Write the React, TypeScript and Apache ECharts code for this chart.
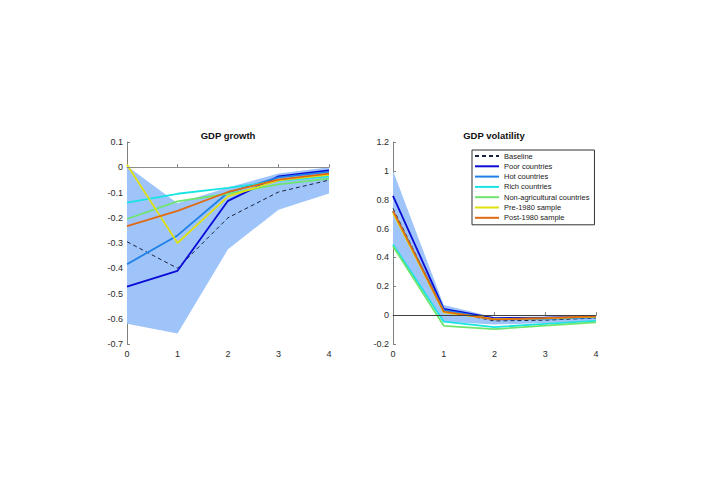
import React, { useEffect, useRef } from "react";
import * as echarts from "echarts";

const horizons = ["0", "1", "2", "3", "4"];
const seriesNames = [
  "Baseline",
  "Poor countries",
  "Hot countries",
  "Rich countries",
  "Non-agricultural countries",
  "Pre-1980 sample",
  "Post-1980 sample",
];
const seriesColors = ["#1c2340", "#0b0bd6", "#1e80e8", "#19e3e3", "#6ee56e", "#e0e010", "#e06a10"];

// GDP growth
const growthBandLow = [-0.62, -0.658, -0.325, -0.168, -0.104];
const growthBandHigh = [0.005, -0.143, -0.08, -0.025, 0.0];
const growthBaseline = [-0.295, -0.4, -0.2, -0.098, -0.051];
const growthPoor = [-0.473, -0.41, -0.133, -0.036, -0.012];
const growthHot = [-0.384, -0.27, -0.1, -0.04, -0.018];
const growthRich = [-0.14, -0.105, -0.082, -0.054, -0.036];
const growthNonAg = [-0.205, -0.135, -0.105, -0.068, -0.045];
const growthPre1980 = [0.01, -0.3, -0.115, -0.052, -0.03];
const growthPost1980 = [-0.233, -0.173, -0.098, -0.049, -0.025];

// GDP volatility
const volBandLow = [0.47, -0.045, -0.065, -0.055, -0.04];
const volBandHigh = [1.0, 0.07, -0.015, -0.01, -0.005];
const volBaseline = [0.74, 0.03, -0.04, -0.035, -0.02];
const volPoor = [0.827, 0.044, -0.02, -0.018, -0.012];
const volHot = [0.72, 0.035, -0.03, -0.025, -0.015];
const volRich = [0.49, -0.045, -0.083, -0.06, -0.04];
const volNonAg = [0.478, -0.074, -0.097, -0.072, -0.05];
const volPre1980 = [0.709, 0.02, -0.028, -0.022, -0.01];
const volPost1980 = [0.723, 0.025, -0.03, -0.02, -0.008];

const growthLines = [growthBaseline, growthPoor, growthHot, growthRich, growthNonAg, growthPre1980, growthPost1980];
const volLines = [volBaseline, volPoor, volHot, volRich, volNonAg, volPre1980, volPost1980];

const FONT = "'Liberation Sans', Arial, Helvetica, sans-serif";
const AXIS_COLOR = "#808080";
const LABEL_COLOR = "#2b2b2b";

function bandSeries(low: number[], high: number[], idx: number, zeroColor: string) {
  return [
    {
      type: "line",
      name: "bandLow" + idx,
      xAxisIndex: idx,
      yAxisIndex: idx,
      data: low,
      stack: "band" + idx,
      stackStrategy: "all",
      symbol: "none",
      lineStyle: { opacity: 0 },
      silent: true,
    },
    {
      type: "line",
      name: "bandSpan" + idx,
      xAxisIndex: idx,
      yAxisIndex: idx,
      data: high.map((h, i) => h - low[i]),
      stack: "band" + idx,
      stackStrategy: "all",
      symbol: "none",
      lineStyle: { opacity: 0 },
      areaStyle: { color: "#9ec4fa", opacity: 1 },
      silent: true,
      markLine: {
        silent: true,
        symbol: "none",
        label: { show: false },
        lineStyle: { color: zeroColor, width: 1, type: "solid" },
        data: [{ yAxis: 0 }],
      },
    },
  ];
}

function lineSeries(lines: number[][], idx: number) {
  return lines.map((d, i) => ({
    type: "line",
    name: seriesNames[i],
    xAxisIndex: idx,
    yAxisIndex: idx,
    data: d,
    symbol: "none",
    color: seriesColors[i],
    lineStyle: {
      color: seriesColors[i],
      width: i === 0 ? 1 : 1.8,
      type: i === 0 ? [4, 3] : "solid",
    },
  }));
}

function xAxis(idx: number) {
  return {
    type: "category",
    gridIndex: idx,
    data: horizons,
    boundaryGap: false,
    axisLine: { lineStyle: { color: AXIS_COLOR, width: 1 } },
    axisTick: { inside: true, length: 3, lineStyle: { color: AXIS_COLOR } },
    axisLabel: { color: LABEL_COLOR, fontSize: 9, fontFamily: FONT, margin: 5 },
    splitLine: { show: false },
  };
}

function yAxis(idx: number, min: number, max: number, interval: number) {
  return {
    type: "value",
    gridIndex: idx,
    min,
    max,
    interval,
    axisLine: { show: true, lineStyle: { color: AXIS_COLOR, width: 1 } },
    axisTick: { show: true, inside: true, length: 3, lineStyle: { color: AXIS_COLOR } },
    axisLabel: {
      color: LABEL_COLOR,
      fontSize: 9,
      fontFamily: FONT,
      margin: 4,
      formatter: (v: number) => String(Math.round(v * 10) / 10),
    },
    splitLine: { show: false },
  };
}

export default function App() {
  const ref = useRef<HTMLDivElement>(null);
  useEffect(() => {
    document.body.style.margin = "0";
    if (!ref.current) return;
    const chart = echarts.init(ref.current, undefined, { renderer: "svg" });
    chart.setOption({
      animation: false,
      backgroundColor: "#ffffff",
      title: [
        {
          text: "GDP growth",
          left: 228,
          top: 130,
          textAlign: "center",
          padding: 0,
          textStyle: { fontSize: 9.5, fontWeight: "bold", color: "#111111", fontFamily: FONT },
        },
        {
          text: "GDP volatility",
          left: 494,
          top: 130,
          textAlign: "center",
          padding: 0,
          textStyle: { fontSize: 9.5, fontWeight: "bold", color: "#111111", fontFamily: FONT },
        },
      ],
      grid: [
        { left: 127, top: 142, width: 202, height: 202, containLabel: false },
        { left: 393, top: 142, width: 203, height: 202, containLabel: false },
      ],
      xAxis: [xAxis(0), xAxis(1)],
      yAxis: [yAxis(0, -0.7, 0.1, 0.1), yAxis(1, -0.2, 1.2, 0.2)],
      legend: {
        data: seriesNames,
        orient: "vertical",
        left: 472,
        top: 150,
        padding: [1, 5, 2, 2],
        itemGap: 0.3,
        itemWidth: 24,
        itemHeight: 10,
        backgroundColor: "#ffffff",
        borderColor: "#333333",
        borderWidth: 1,
        borderRadius: 0,
        selectedMode: false,
        itemStyle: { opacity: 0, borderWidth: 0 },
        textStyle: { fontSize: 7.5, lineHeight: 10, color: "#1a1a1a", fontFamily: FONT },
      },
      series: [
        ...bandSeries(growthBandLow, growthBandHigh, 0, "#8c8c8c"),
        ...lineSeries(growthLines, 0),
        ...bandSeries(volBandLow, volBandHigh, 1, "#404040"),
        ...lineSeries(volLines, 1),
      ],
    });
    return () => chart.dispose();
  }, []);
  return <div ref={ref} style={{ width: 702, height: 496 }} />;
}
